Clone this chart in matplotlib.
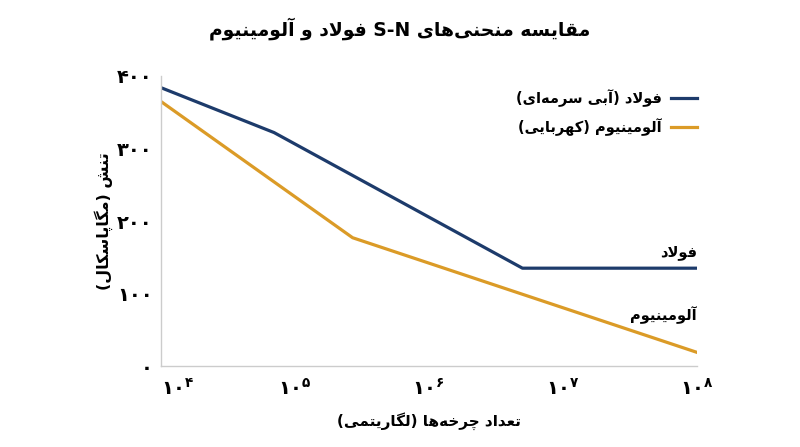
import matplotlib
matplotlib.use('Agg')
import matplotlib.pyplot as plt
import re

# ---- data ----
cycles_steel = [1e4, 7e4, 5e6, 1e8]
stress_steel = [384, 322, 135, 135]
cycles_alu = [1e4, 2.7e5, 1e8]
stress_alu = [365, 177, 19]

y_ticks = [0, 100, 200, 300, 400]
y_tick_labels = ['۰', '۱۰۰', '۲۰۰', '۳۰۰', '۴۰۰']
x_ticks = [1e4, 1e5, 1e6, 1e7, 1e8]
x_exponents = ['۴', '۵', '۶', '۷', '۸']

title = 'مقایسه منحنی‌های S-N فولاد و آلومینیوم'
x_label = 'تعداد چرخه‌ها (لگاریتمی)'
y_label = 'تنش (مگاپاسکال)'
legend_labels = ['فولاد (آبی سرمه‌ای)', 'آلومینیوم (کهربایی)']
end_labels = ['فولاد', 'آلومینیوم']

steel_color = '#1D3B6B'
alu_color = '#DB9B27'

# ---- minimal arabic shaping + rtl ordering (matplotlib has no text shaping) ----
_dual = {
    'ب': 0xFE8F, 'ت': 0xFE95, 'ث': 0xFE99, 'ج': 0xFE9D, 'ح': 0xFEA1, 'خ': 0xFEA5,
    'س': 0xFEB1, 'ش': 0xFEB5, 'ص': 0xFEB9, 'ض': 0xFEBD, 'ط': 0xFEC1, 'ظ': 0xFEC5,
    'ع': 0xFEC9, 'غ': 0xFECD, 'ف': 0xFED1, 'ق': 0xFED5, 'ل': 0xFEDD, 'م': 0xFEE1,
    'ن': 0xFEE5, 'ه': 0xFEE9, 'ي': 0xFEF1,
    'پ': 0xFB56, 'چ': 0xFB7A, 'ک': 0xFB8E, 'گ': 0xFB92, 'ی': 0xFBFC,
}
_right = {'ا': 0xFE8D, 'آ': 0xFE81, 'د': 0xFEA9, 'ذ': 0xFEAB, 'ر': 0xFEAD,
          'ز': 0xFEAF, 'و': 0xFEED, 'ژ': 0xFB8A}
_lamalef = {'ا': 0xFEFB, 'آ': 0xFEF5}


def _shape(s):
    out = []
    i = 0
    n = len(s)
    while i < n:
        c = s[i]
        prev = s[i - 1] if i > 0 else ''
        joins_prev = prev in _dual
        if c == 'ل' and i + 1 < n and s[i + 1] in _lamalef:
            out.append(chr(_lamalef[s[i + 1]] + (1 if joins_prev else 0)))
            i += 2
            continue
        nxt = s[i + 1] if i + 1 < n else ''
        joins_next = nxt in _dual or nxt in _right
        if c in _dual:
            if joins_prev and joins_next:
                k = 3
            elif joins_prev:
                k = 1
            elif joins_next:
                k = 2
            else:
                k = 0
            out.append(chr(_dual[c] + k))
        elif c in _right:
            out.append(chr(_right[c] + (1 if joins_prev else 0)))
        else:
            out.append(c)
        i += 1
    return ''.join(out)


def fa(text):
    runs = re.split(r'([A-Za-z0-9][A-Za-z0-9\-]*)', text)
    vis = []
    for r in runs:
        if not r:
            continue
        if re.match(r'[A-Za-z0-9]', r):
            vis.append(r)
        else:
            sh = _shape(r).replace('\u200c', '')
            sh = sh[::-1].translate(str.maketrans('()', ')('))
            vis.append(sh)
    return ''.join(vis[::-1])


plt.rcParams['font.family'] = ['DejaVu Sans']
plt.rcParams['font.weight'] = 'bold'

fig = plt.figure(figsize=(8, 4.47), dpi=100)
ax = fig.add_axes([0.201, 0.181, 0.67, 0.649])

ax.plot(cycles_steel, stress_steel, color=steel_color, lw=2.3, label=fa(legend_labels[0]))
ax.plot(cycles_alu, stress_alu, color=alu_color, lw=2.3, label=fa(legend_labels[1]))

ax.set_xscale('log')
ax.set_xlim(1e4, 1e8)
ax.set_ylim(0, 400)

ax.set_yticks(y_ticks)
ax.set_yticklabels(y_tick_labels, fontsize=14, fontweight='bold')
ax.set_xticks(x_ticks)
ax.set_xticklabels([r'$\mathbf{۱۰^{%s}}$' % e for e in x_exponents], fontsize=14)
ax.minorticks_off()
ax.tick_params(axis='y', length=0, pad=6)
ax.tick_params(axis='x', length=0, pad=9)
# first x label sits to the right of its tick, clear of the y axis zero
ax.get_xticklabels()[0].set_horizontalalignment('left')

for side in ['top', 'right']:
    ax.spines[side].set_visible(False)
for side in ['left', 'bottom']:
    ax.spines[side].set_color('#CCCCCC')
    ax.spines[side].set_linewidth(1)

ax.set_xlabel(fa(x_label), fontsize=11, fontweight='bold')
ax.xaxis.set_label_coords(0.5, -0.19)
ax.xaxis.label.set_va('center')
ax.set_ylabel(fa(y_label), fontsize=11.5, fontweight='bold')
ax.yaxis.set_label_coords(-0.106, 0.5)
ax.yaxis.label.set_va('center')

fig.suptitle(fa(title), fontsize=13.5, fontweight='bold', y=0.937, va='center')

leg = ax.legend(loc='upper right', bbox_to_anchor=(1.025, 1.0), frameon=False,
                markerfirst=False, fontsize=10.5, handlelength=1.8,
                labelspacing=0.75, handletextpad=0.6)

# direct labels at the right end of the curves
ax.text(1e8, 157, fa(end_labels[0]), ha='right', va='center',
        fontsize=10.5, fontweight='bold')
ax.text(1e8, 70, fa(end_labels[1]), ha='right', va='center',
        fontsize=10.5, fontweight='bold')

fig.savefig('out.png', dpi=100)
